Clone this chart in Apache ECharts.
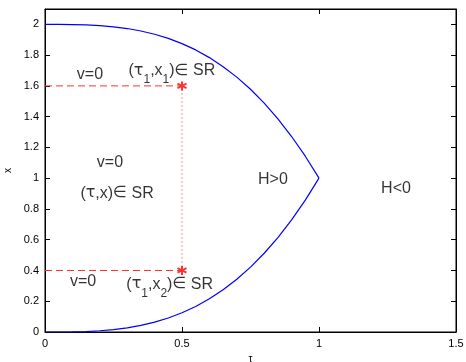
<!DOCTYPE html>
<html>
<head>
<meta charset="utf-8">
<script src="https://cdn.jsdelivr.net/npm/echarts@6/dist/echarts.min.js"></script>
<style>
  html, body { margin: 0; padding: 0; background: #fff; }
  #chart { width: 466px; height: 362px; }
</style>
</head>
<body>
<div id="chart"></div>
<script>
// boundary curve
var tauVals   = [0, 0.05, 0.1, 0.15, 0.2, 0.25, 0.3, 0.35, 0.4, 0.45, 0.5,
                 0.55, 0.6, 0.65, 0.7, 0.75, 0.8, 0.85, 0.9, 0.95, 1.0];
var upperVals = [2, 2.0, 1.999, 1.997, 1.992, 1.984, 1.973, 1.957, 1.936, 1.909, 1.875,
                 1.834, 1.784, 1.725, 1.657, 1.578, 1.488, 1.386, 1.271, 1.143, 1.0];
var lowerVals = [0, 0.0, 0.001, 0.003, 0.008, 0.016, 0.027, 0.043, 0.064, 0.091, 0.125,
                 0.166, 0.216, 0.275, 0.343, 0.422, 0.512, 0.614, 0.729, 0.857, 1.0];

// the red construction: point tau1 and the two x values
var tau1 = 0.5;
var x1 = 1.6;
var x2 = 0.4;

// text annotations [tau, x, text]
var notes = [
  [0.164, 1.675, 'v=0'],
  [0.463, 1.70, '({t|τ}{s|1},x{s|1}){t|∈} SR'],
  [0.237, 1.104, 'v=0'],
  [0.263, 0.903, '({t|τ},x){t|∈} SR'],
  [0.139, 0.325, 'v=0'],
  [0.455, 0.31, '({t|τ}{s|1},x{s|2}){t|∈} SR'],
  [0.832, 0.994, 'H>0'],
  [1.281, 0.935, 'H<0']
];

function zip(a, b) {
  var out = [];
  for (var i = 0; i < a.length; i++) out.push([a[i], b[i]]);
  return out;
}

var font = 'Liberation Sans, Arial, sans-serif';
var star = 'path://M0,-10L0,10M-8.66,-5L8.66,5M-8.66,5L8.66,-5';

var myChart = echarts.init(document.getElementById('chart'));
var option = {
  backgroundColor: '#fff',
  animation: false,
  grid: {
    left: 45, right: 10, top: 9, bottom: 30, containLabel: false, outerBoundsMode: 'none',
    show: true, borderColor: '#000', borderWidth: 1, backgroundColor: 'transparent'
  },
  xAxis: [{
    type: 'value', min: 0, max: 1.5, interval: 0.5,
    name: 'τ', nameLocation: 'middle', nameGap: 18,
    nameTextStyle: { color: '#000', fontSize: 10, fontFamily: font },
    axisLine: { show: true, onZero: false, lineStyle: { color: '#000', width: 1 } },
    axisTick: { show: true, inside: true, length: 5, lineStyle: { color: '#000' } },
    axisLabel: { color: '#000', fontSize: 11, fontFamily: font, margin: 6 },
    splitLine: { show: false }
  }, {
    type: 'value', min: 0, max: 1.5, interval: 0.5, position: 'top',
    axisLine: { show: true, onZero: false, lineStyle: { color: '#000', width: 1 } },
    axisTick: { show: true, inside: true, length: 5, lineStyle: { color: '#000' } },
    axisLabel: { show: false },
    splitLine: { show: false }
  }],
  yAxis: [{
    type: 'value', min: 0, max: 2.1, interval: 0.2,
    name: 'x', nameLocation: 'middle', nameGap: 30, nameRotate: 90,
    nameTextStyle: { color: '#000', fontSize: 10, fontFamily: font },
    axisLine: { show: true, onZero: false, lineStyle: { color: '#000', width: 1 } },
    axisTick: { show: true, inside: true, length: 5, lineStyle: { color: '#000' } },
    axisLabel: { color: '#000', fontSize: 11, fontFamily: font, margin: 6, showMaxLabel: false },
    splitLine: { show: false }
  }, {
    type: 'value', min: 0, max: 2.1, interval: 0.2, position: 'right',
    axisLine: { show: true, onZero: false, lineStyle: { color: '#000', width: 1 } },
    axisTick: { show: true, inside: true, length: 5, lineStyle: { color: '#000' } },
    axisLabel: { show: false },
    splitLine: { show: false }
  }],
  series: [
    {
      type: 'line', data: zip(tauVals, upperVals), smooth: false,
      showSymbol: false, lineStyle: { color: '#0000ff', width: 1.2 }
    },
    {
      type: 'line', data: zip(tauVals, lowerVals), smooth: false,
      showSymbol: false, lineStyle: { color: '#0000ff', width: 1.2 }
    },
    {
      type: 'line', data: [[0, x1], [tau1, x1]], showSymbol: false,
      lineStyle: { color: '#ff3030', width: 1, type: [7, 4] }
    },
    {
      type: 'line', data: [[0, x2], [tau1, x2]], showSymbol: false,
      lineStyle: { color: '#ff3030', width: 1, type: [7, 4] }
    },
    {
      type: 'line', data: [[tau1, x2], [tau1, x1]], showSymbol: false,
      lineStyle: { color: '#ff3030', width: 1, type: [1, 3] }
    },
    {
      type: 'scatter', data: [[tau1, x1], [tau1, x2]], symbol: star, symbolSize: 9,
      itemStyle: { color: 'none', borderColor: '#ff0000', borderWidth: 2 }
    },
    {
      type: 'scatter', symbolSize: 0, silent: true,
      data: notes.map(function (n) { return { value: [n[0], n[1]], name: n[2] }; }),
      label: {
        show: true, position: 'inside', formatter: '{b}',
        color: '#000', fontSize: 16, fontFamily: font, textBorderWidth: 0,
        rich: {
          t: { fontSize: 16, fontFamily: 'DejaVu Sans', color: '#000', textBorderWidth: 0 },
          s: { fontSize: 12, fontFamily: font, color: '#000', textBorderWidth: 0, padding: [18, 0, 0, 0] }
        }
      }
    }
  ]
};
myChart.setOption(option);
</script>
</body>
</html>
